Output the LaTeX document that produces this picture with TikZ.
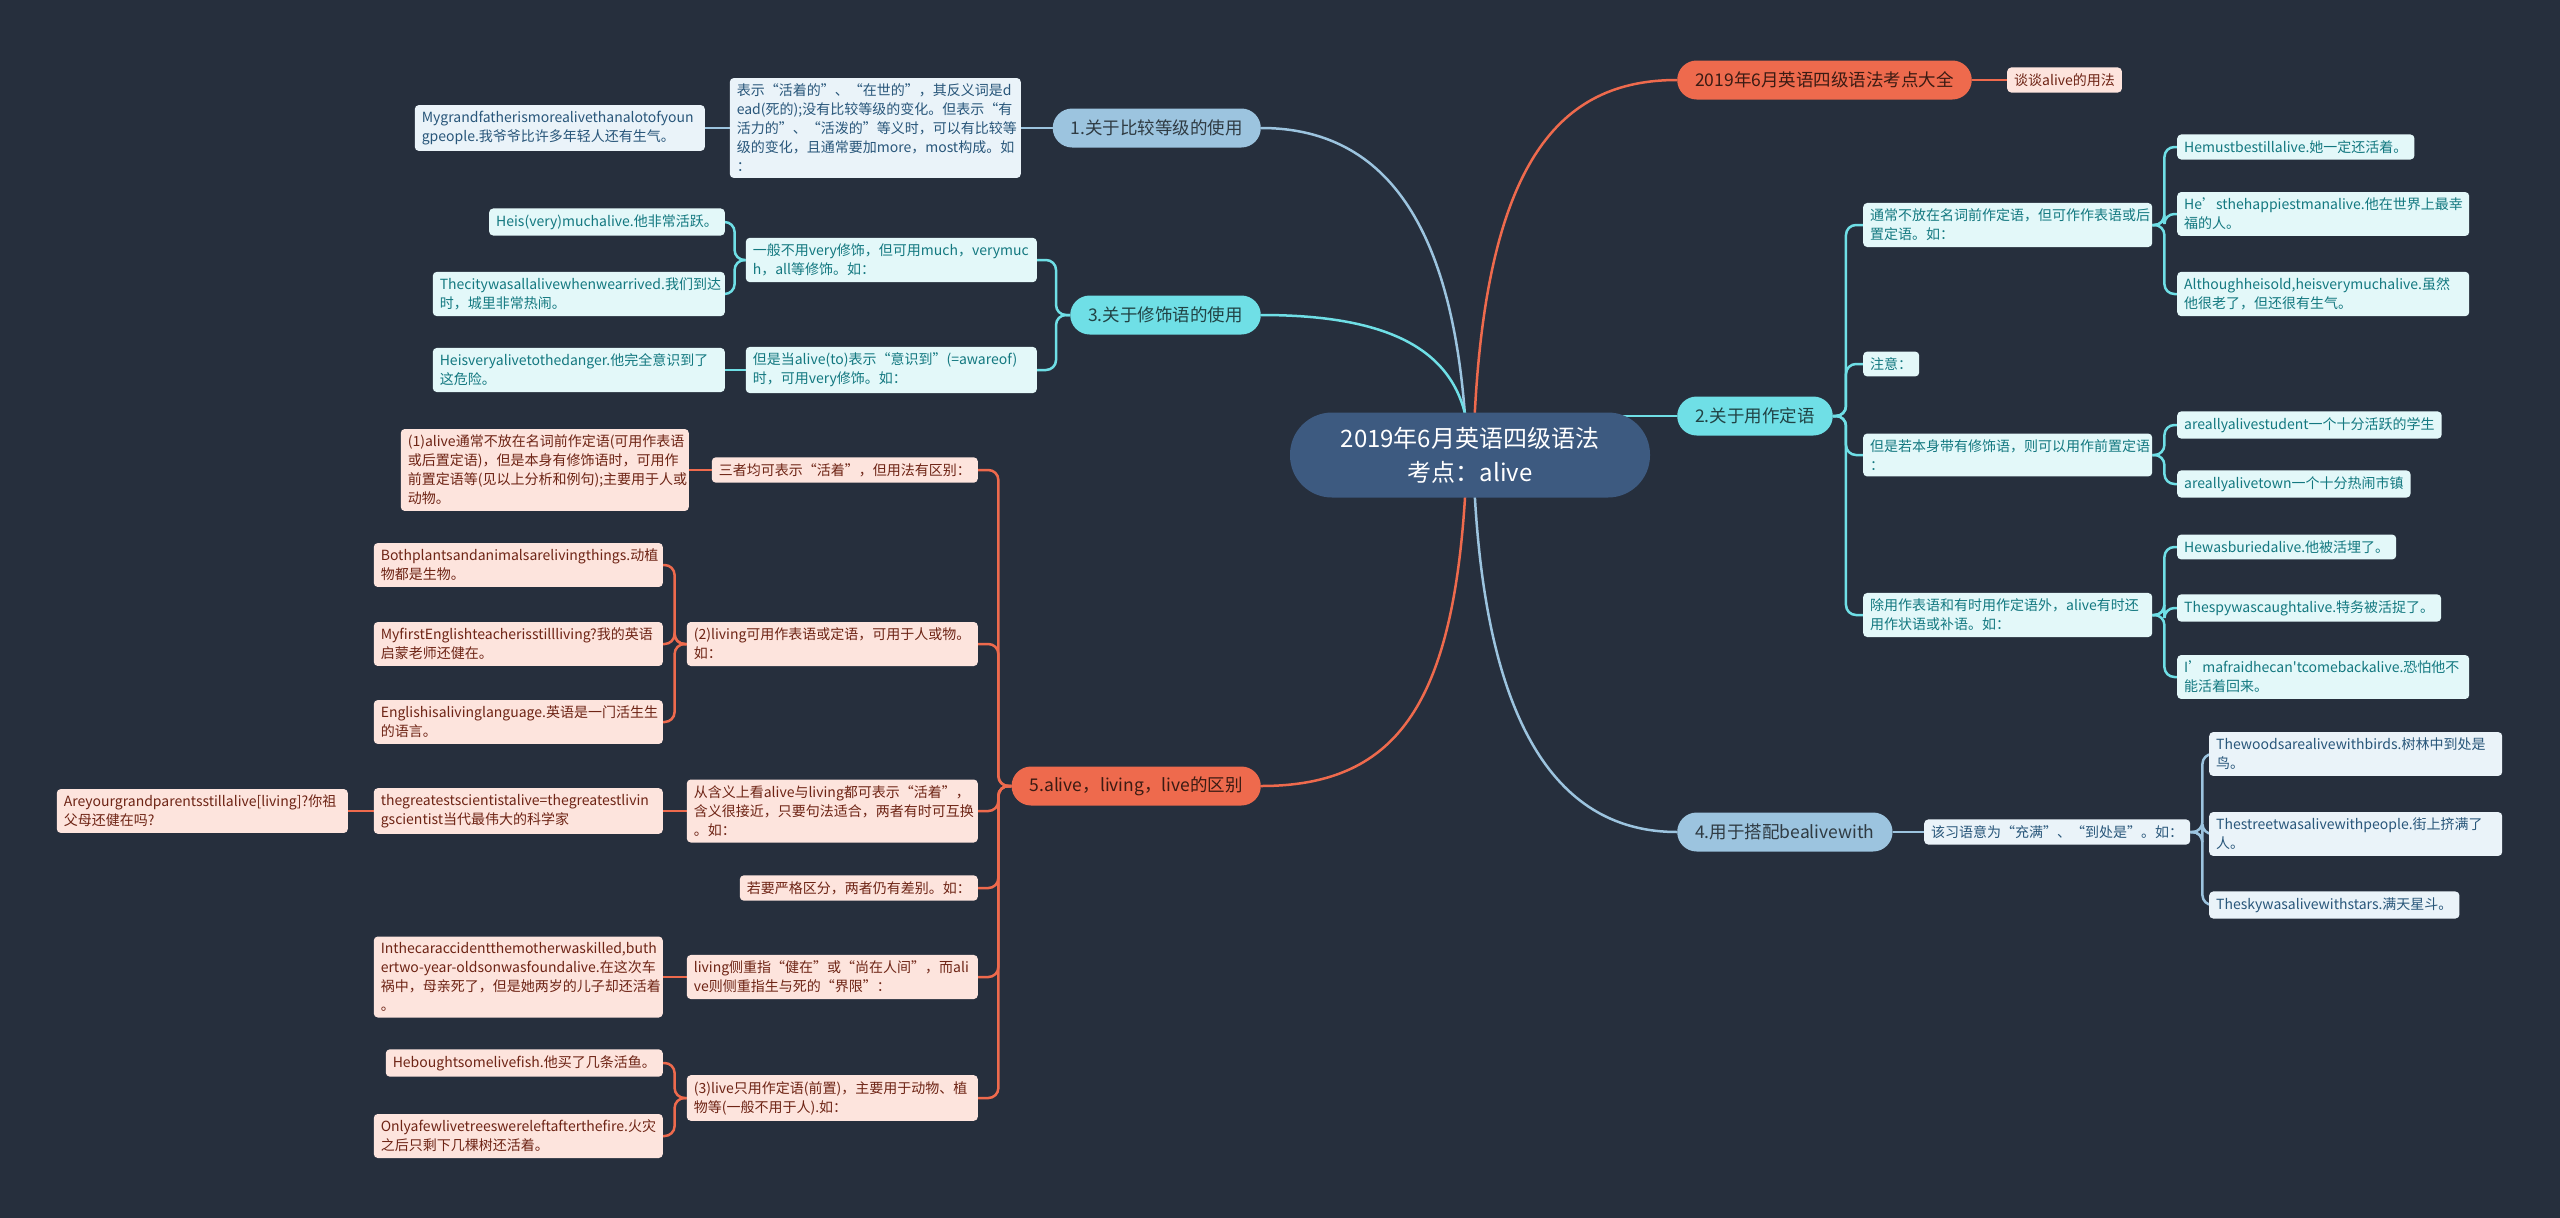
\documentclass[tikz,border=0pt]{standalone}
\usepackage{fontspec}
\setmainfont{Noto Sans CJK SC}
\newfontfamily\plainfont{Noto Sans CJK SC}
\usetikzlibrary{backgrounds}
\exhyphenpenalty=10000
\definecolor{bgdark}{HTML}{262F3D}
\definecolor{rootblue}{HTML}{3D5A80}
\definecolor{orangeA}{HTML}{EE6A4D}
\definecolor{cyanA}{HTML}{6FDFE6}
\definecolor{blueA}{HTML}{9CC4DF}
\definecolor{pinkleaf}{HTML}{FDE4DD}
\definecolor{pinktext}{HTML}{6E2415}
\definecolor{cyanleaf}{HTML}{E3F8F9}
\definecolor{cyantext}{HTML}{137880}
\definecolor{blueleaf}{HTML}{EAF3F9}
\definecolor{bluetext}{HTML}{28567A}
\tikzset{
  root/.style={fill=rootblue,text=white,rounded corners=42pt,minimum width=360pt,minimum height=85pt,align=center,font=\fontsize{24}{34}\selectfont},
  topic/.style={rounded corners=19.5pt,minimum height=39pt,inner xsep=18pt,font=\fontsize{17.5}{22}\selectfont},
  topicO/.style={topic,fill=orangeA,text=black!75!orangeA},
  topicC/.style={topic,fill=cyanA,text=black!70!cyanA},
  topicB/.style={topic,fill=blueA,text=black!70!blueA},
  leaf/.style={rounded corners=4pt,inner xsep=7pt,inner ysep=6pt,align=left,font=\fontsize{14}{19}\selectfont},
  leafO/.style={leaf,fill=pinkleaf,text=pinktext},
  leafC/.style={leaf,fill=cyanleaf,text=cyantext},
  leafB/.style={leaf,fill=blueleaf,text=bluetext},
  lineO/.style={draw=orangeA,line width=2.5pt,rounded corners=10pt},
  lineC/.style={draw=cyanA,line width=2.5pt,rounded corners=10pt},
  lineB/.style={draw=blueA,line width=2.5pt,rounded corners=10pt}
}

\begin{document}
\begin{tikzpicture}[x=1pt,y=-1pt]
  \useasboundingbox (0,0) rectangle (2560,1218);
  \node[root] (cen) at (1470,455) {2019年6月英语四级语法\\考点：alive};

  \node[topicO,anchor=west] (top) at (1677,80) {2019年6月英语四级语法考点大全};
  \node[leafO,anchor=west] (topa) at (2007,80) {谈谈alive的用法};

  \node[topicC,anchor=west] (b2) at (1677,416) {2.关于用作定语};
  \node[leafC,anchor=west,text width=275pt] (b2a) at (1863,225) {通常不放在名词前作定语，但可作作表语或后\\置定语。如：};
  \node[leafC,anchor=west] (b2a1) at (2177,147) {Hemustbestillalive.她一定还活着。};
  \node[leafC,anchor=west,text width=278pt] (b2a2) at (2177,214) {He’sthehappiestmanalive.他在世界上最幸\\福的人。};
  \node[leafC,anchor=west,text width=278pt] (b2a3) at (2177,294) {Althoughheisold,heisverymuchalive.虽然\\他很老了，但还很有生气。};
  \node[leafC,anchor=west] (b2b) at (1863,364) {注意：};
  \node[leafC,anchor=west,text width=275pt] (b2c) at (1863,455) {但是若本身带有修饰语，则可以用作前置定语\\：};
  \node[leafC,anchor=west] (b2c1) at (2177,425) {areallyalivestudent一个十分活跃的学生};
  \node[leafC,anchor=west] (b2c2) at (2177,484) {areallyalivetown一个十分热闹市镇};
  \node[leafC,anchor=west,text width=275pt] (b2d) at (1863,615) {除用作表语和有时用作定语外，alive有时还\\用作状语或补语。如：};
  \node[leafC,anchor=west] (b2d1) at (2177,547) {Hewasburiedalive.他被活埋了。};
  \node[leafC,anchor=west] (b2d2) at (2177,608) {Thespywascaughtalive.特务被活捉了。};
  \node[leafC,anchor=west,text width=278pt] (b2d3) at (2177,677) {I’mafraidhecan{\plainfont'}tcomebackalive.恐怕他不\\能活着回来。};

  \node[topicB,anchor=west] (b4) at (1677,832) {4.用于搭配bealivewith};
  \node[leafB,anchor=west] (b4a) at (1924,832) {该习语意为“充满”、“到处是”。如：};
  \node[leafB,anchor=west,text width=279pt] (b4a1) at (2209,754) {Thewoodsarealivewithbirds.树林中到处是\\鸟。};
  \node[leafB,anchor=west,text width=279pt] (b4a2) at (2209,834) {Thestreetwasalivewithpeople.街上挤满了\\人。};
  \node[leafB,anchor=west] (b4a3) at (2209,905) {Theskywasalivewithstars.满天星斗。};

  \node[topicB,anchor=east] (b1) at (1261,128) {1.关于比较等级的使用};
  \node[leafB,anchor=east,text width=277pt] (b1a) at (1021,128) {表示“活着的”、“在世的”，其反义词是d\\ead(死的);没有比较等级的变化。但表示“有\\活力的”、“活泼的”等义时，可以有比较等\\级的变化，且通常要加more，most构成。如\\：};
  \node[leafB,anchor=east,text width=276pt] (b1a1) at (705,128) {Mygrandfatherismorealivethanalotofyoun\\gpeople.我爷爷比许多年轻人还有生气。};

  \node[topicC,anchor=east] (b3) at (1261,315) {3.关于修饰语的使用};
  \node[leafC,anchor=east,text width=277pt] (b3a) at (1037,260) {一般不用very修饰，但可用much，verymuc\\h，all等修饰。如：};
  \node[leafC,anchor=east] (b3a1) at (725,222) {Heis(very)muchalive.他非常活跃。};
  \node[leafC,anchor=east,text width=278pt] (b3a2) at (725,294) {Thecitywasallalivewhenwearrived.我们到达\\时，城里非常热闹。};
  \node[leafC,anchor=east,text width=277pt] (b3b) at (1037,370) {但是当alive(to)表示“意识到”(=awareof)\\时，可用very修饰。如：};
  \node[leafC,anchor=east,text width=278pt] (b3b1) at (725,370) {Heisveryalivetothedanger.他完全意识到了\\这危险。};

  \node[topicO,anchor=east] (b5) at (1261,786) {5.alive，living，live的区别};
  \node[leafO,anchor=east] (b5a) at (978,470) {三者均可表示“活着”，但用法有区别：};
  \node[leafO,anchor=east,text width=274pt] (b5a1) at (689,470) {(1)alive通常不放在名词前作定语(可用作表语\\或后置定语)，但是本身有修饰语时，可用作\\前置定语等(见以上分析和例句);主要用于人或\\动物。};
  \node[leafO,anchor=east,text width=277pt] (b5b) at (978,644) {(2)living可用作表语或定语，可用于人或物。\\如：};
  \node[leafO,anchor=east,text width=275pt] (b5b1) at (663,565) {Bothplantsandanimalsarelivingthings.动植\\物都是生物。};
  \node[leafO,anchor=east,text width=275pt] (b5b2) at (663,644) {MyfirstEnglishteacherisstillliving?我的英语\\启蒙老师还健在。};
  \node[leafO,anchor=east,text width=275pt] (b5b3) at (663,722) {Englishisalivinglanguage.英语是一门活生生\\的语言。};
  \node[leafO,anchor=east,text width=277pt] (b5c) at (978,811) {从含义上看alive与living都可表示“活着”，\\含义很接近，只要句法适合，两者有时可互换\\。如：};
  \node[leafO,anchor=east,text width=275pt] (b5c1) at (663,811) {thegreatestscientistalive=thegreatestlivin\\gscientist当代最伟大的科学家};
  \node[leafO,anchor=east,text width=277pt] (b5c1a) at (348,811) {Areyourgrandparentsstillalive[living]?你祖\\父母还健在吗?};
  \node[leafO,anchor=east] (b5d) at (978,888) {若要严格区分，两者仍有差别。如：};
  \node[leafO,anchor=east,text width=277pt] (b5e) at (978,977) {living侧重指“健在”或“尚在人间”，而ali\\ve则侧重指生与死的“界限”：};
  \node[leafO,anchor=east,text width=275pt] (b5e1) at (663,977) {Inthecaraccidentthemotherwaskilled,buth\\\mbox{ertwo-year-oldsonwasfoundalive.在这次车}\\祸中，母亲死了，但是她两岁的儿子却还活着\\。};
  \node[leafO,anchor=east,text width=277pt] (b5f) at (978,1098) {(3)live只用作定语(前置)，主要用于动物、植\\物等(一般不用于人).如：};
  \node[leafO,anchor=east] (b5f1) at (663,1063) {Heboughtsomelivefish.他买了几条活鱼。};
  \node[leafO,anchor=east,text width=275pt] (b5f2) at (663,1136) {Onlyafewlivetreeswereleftafterthefire.火灾\\之后只剩下几棵树还活着。};

  \begin{scope}[on background layer]
    \fill[bgdark] (0,0) rectangle (2560,1218);
    \draw[lineB] (1466,430) .. controls (1455,250) and (1400,128) .. (b1.east);
    \draw[lineC] (1468,430) .. controls (1458,350) and (1390,315) .. (b3.east);
    \draw[lineO] (1474,430) .. controls (1485,160) and (1560,80) .. (top.west);
    \draw[lineC] (b2.west) -- (b2.west -| cen.center);
    \draw[lineO] (1466,480) .. controls (1455,700) and (1400,786) .. (b5.east);
    \draw[lineB] (1474,480) .. controls (1485,730) and (1560,832) .. (b4.west);

    \draw[lineO] (top.east) -- (topa.west);

    \draw[lineC] (b2.east) -- ++(13,0) |- (b2a.west);
    \draw[lineC] (b2.east) -- ++(13,0) |- (b2b.west);
    \draw[lineC] (b2.east) -- ++(13,0) |- (b2c.west);
    \draw[lineC] (b2.east) -- ++(13,0) |- (b2d.west);
    \draw[lineC] (b2a.east) -- ++(12,0) |- (b2a1.west);
    \draw[lineC] (b2a.east) -- ++(12,0) |- (b2a2.west);
    \draw[lineC] (b2a.east) -- ++(12,0) |- (b2a3.west);
    \draw[lineC] (b2c.east) -- ++(12,0) |- (b2c1.west);
    \draw[lineC] (b2c.east) -- ++(12,0) |- (b2c2.west);
    \draw[lineC] (b2d.east) -- ++(12,0) |- (b2d1.west);
    \draw[lineC] (b2d.east) -- ++(12,0) |- (b2d2.west);
    \draw[lineC] (b2d.east) -- ++(12,0) |- (b2d3.west);

    \draw[lineB] (b4.east) -- (b4a.west);
    \draw[lineB] (b4a.east) -- ++(12,0) |- (b4a1.west);
    \draw[lineB] (b4a.east) -- ++(12,0) |- (b4a2.west);
    \draw[lineB] (b4a.east) -- ++(12,0) |- (b4a3.west);

    \draw[lineB] (b1.west) -- (b1a.east);
    \draw[lineB] (b1a.west) -- (b1a1.east);

    \draw[lineC] (b3.west) -- ++(-14,0) |- (b3a.east);
    \draw[lineC] (b3.west) -- ++(-14,0) |- (b3b.east);
    \draw[lineC] (b3a.west) -- ++(-11,0) |- (b3a1.east);
    \draw[lineC] (b3a.west) -- ++(-11,0) |- (b3a2.east);
    \draw[lineC] (b3b.west) -- (b3b1.east);

    \draw[lineO] (b5.west) -- ++(-13,0) |- (b5a.east);
    \draw[lineO] (b5.west) -- ++(-13,0) |- (b5b.east);
    \draw[lineO] (b5.west) -- ++(-13,0) |- (b5c.east);
    \draw[lineO] (b5.west) -- ++(-13,0) |- (b5d.east);
    \draw[lineO] (b5.west) -- ++(-13,0) |- (b5e.east);
    \draw[lineO] (b5.west) -- ++(-13,0) |- (b5f.east);
    \draw[lineO] (b5a.west) -- (b5a1.east);
    \draw[lineO] (b5b.west) -- ++(-12,0) |- (b5b1.east);
    \draw[lineO] (b5b.west) -- ++(-12,0) |- (b5b2.east);
    \draw[lineO] (b5b.west) -- ++(-12,0) |- (b5b3.east);
    \draw[lineO] (b5c.west) -- (b5c1.east);
    \draw[lineO] (b5c1.west) -- (b5c1a.east);
    \draw[lineO] (b5e.west) -- (b5e1.east);
    \draw[lineO] (b5f.west) -- ++(-12,0) |- (b5f1.east);
    \draw[lineO] (b5f.west) -- ++(-12,0) |- (b5f2.east);
  \end{scope}
\end{tikzpicture}
\end{document}
